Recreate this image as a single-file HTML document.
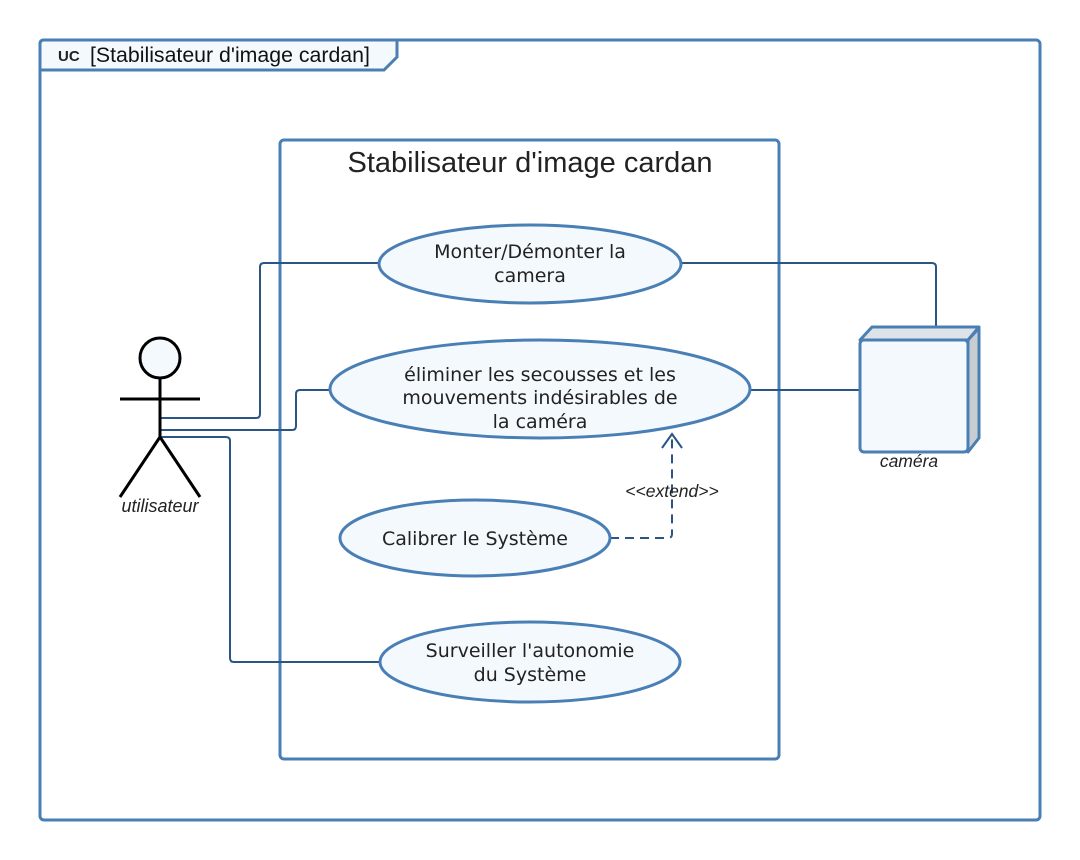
<!DOCTYPE html>
<html><head><meta charset="utf-8"><style>
body{margin:0;background:#fff;}
svg{display:block;font-family:"Liberation Sans",sans-serif;}
</style></head><body>
<svg width="1080" height="860" viewBox="0 0 1080 860">
<rect x="40" y="40" width="1000" height="780" rx="4" fill="#fff" stroke="#4a7fb5" stroke-width="3"/>
<path d="M40 70 L40 44 Q40 40 44 40 L397 40 L397 57 L384 70 Z" fill="#f4f9fe" stroke="#4a7fb5" stroke-width="3"/>
<text x="58" y="61" font-size="15" font-weight="bold" fill="#222">UC</text>
<text x="90" y="62" font-size="21.3" fill="#111">[Stabilisateur d'image cardan]</text>
<rect x="280" y="140" width="499" height="619" rx="4" fill="#fff" stroke="#4a7fb5" stroke-width="3"/>
<text x="530" y="172" font-size="29" fill="#222" text-anchor="middle">Stabilisateur d'image cardan</text>
<g fill="none" stroke="#2a5584" stroke-width="2">
<path d="M160 418 H256 Q260 418 260 414 V267 Q260 263 264 263 H380"/>
<path d="M160 430 H292 Q296 430 296 426 V394 Q296 390 300 390 H332"/>
<path d="M160 437 H226 Q230 437 230 441 V658 Q230 662 234 662 H382"/>
<path d="M680 263 H932 Q936 263 936 267 V328"/>
<path d="M750 390 H862"/>
<path d="M610 538 H668 Q672 538 672 534 V434" stroke-dasharray="9,6"/>
<path d="M662 448 L672 434 L682 448"/>
</g>
<text x="672" y="497" font-size="17.5" font-style="italic" fill="#222" text-anchor="middle">&lt;&lt;extend&gt;&gt;</text>
<g fill="#f4f9fe" stroke="#4a7fb5" stroke-width="3">
<ellipse cx="530" cy="264" rx="151" ry="39"/>
<ellipse cx="540" cy="389" rx="210" ry="49"/>
<ellipse cx="475" cy="538" rx="135" ry="38"/>
<ellipse cx="530" cy="662" rx="150" ry="40"/>
</g>
<g font-size="19" fill="#222" text-anchor="middle" font-family="'DejaVu Sans',sans-serif">
<text x="530" y="258">Monter/Démonter la</text>
<text x="530" y="282">camera</text>
<text x="540" y="381">éliminer les secousses et les</text>
<text x="540" y="404">mouvements indésirables de</text>
<text x="540" y="428">la caméra</text>
<text x="475" y="545">Calibrer le Système</text>
<text x="530" y="657">Surveiller l'autonomie</text>
<text x="530" y="681">du Système</text>
</g>
<path d="M968 340 L979 328 L979 438 L968 452 Z" fill="#c8cdd1" stroke="#4a7fb5" stroke-width="3" stroke-linejoin="round"/>
<path d="M860 340 L872 327 L979 327 L968 340 Z" fill="#dde3e8" stroke="#4a7fb5" stroke-width="3" stroke-linejoin="round"/>
<rect x="860" y="340" width="108" height="112" rx="4" fill="#f4f9fe" stroke="#4a7fb5" stroke-width="3"/>
<text x="909" y="467" font-size="17.5" font-style="italic" fill="#222" text-anchor="middle">caméra</text>
<g stroke="#000" stroke-width="3" fill="none">
<circle cx="160" cy="358" r="20" fill="#f4f9fe"/>
<path d="M160 378 V437 M120 399 H200 M160 437 L120 497 M160 437 L200 497"/>
</g>
<text x="160" y="512" font-size="18" font-style="italic" fill="#222" text-anchor="middle">utilisateur</text>
</svg>
</body></html>
